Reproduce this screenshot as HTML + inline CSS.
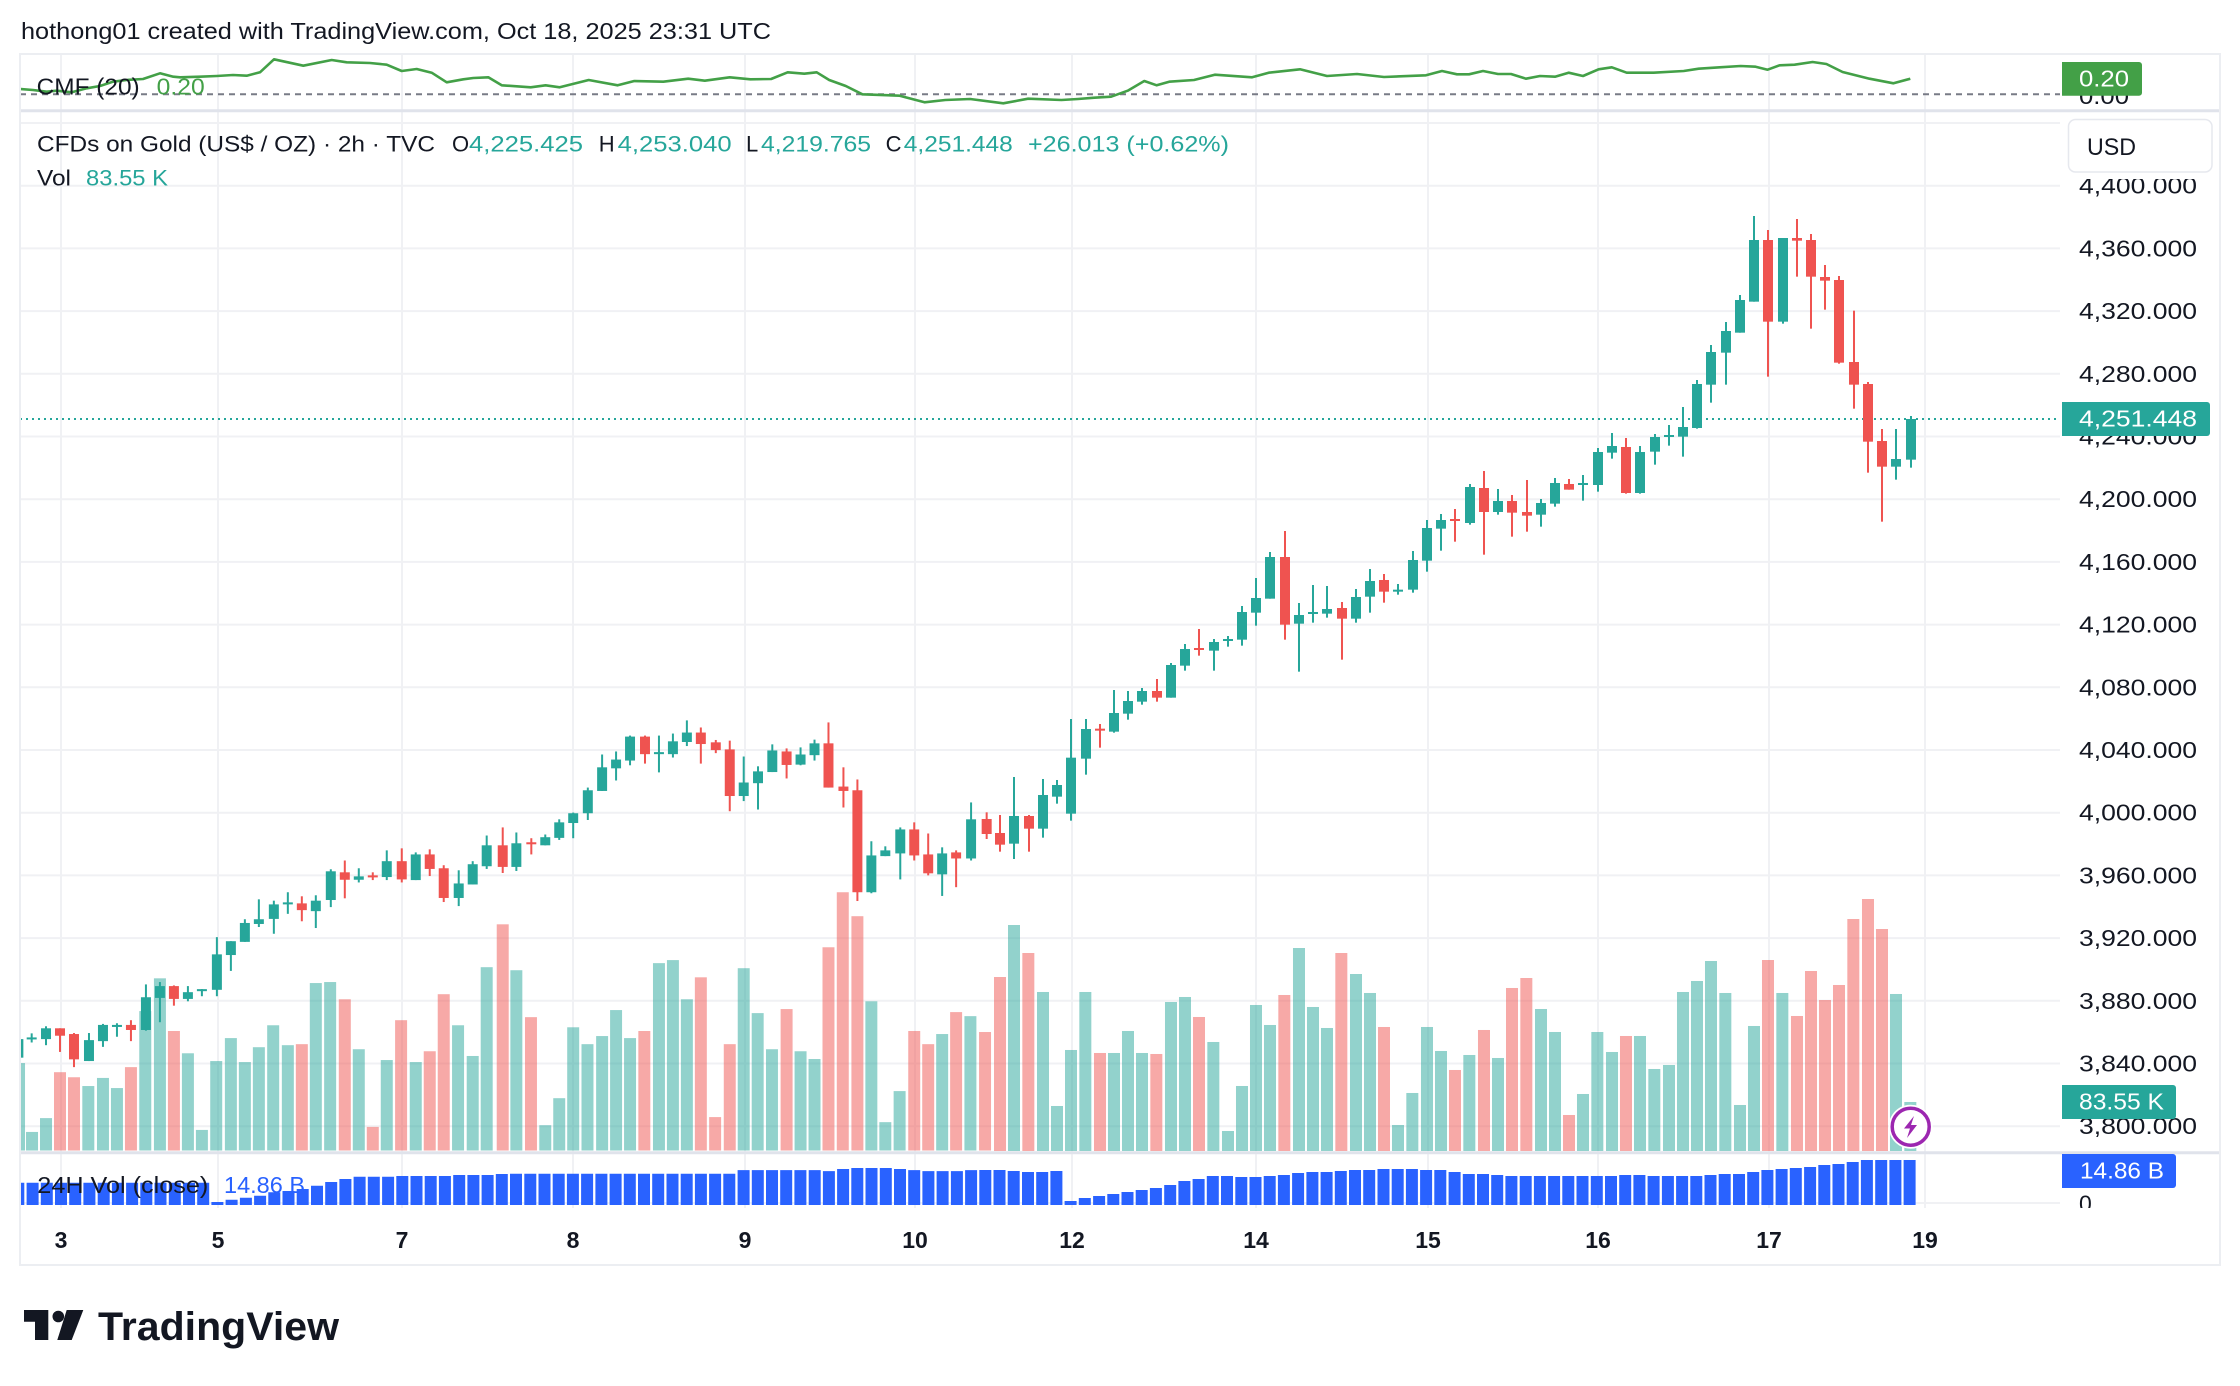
<!DOCTYPE html>
<html><head><meta charset="utf-8"><style>html,body{margin:0;padding:0;background:#fff;}svg{display:block;}</style></head>
<body>
<svg width="2240" height="1386" viewBox="0 0 2240 1386" xmlns="http://www.w3.org/2000/svg" font-family="'Liberation Sans', Arial, sans-serif">
<defs>
<clipPath id="cm"><rect x="21" y="111" width="2039" height="1040.5"/></clipPath>
<clipPath id="cv"><rect x="21" y="1154" width="2039" height="54"/></clipPath>
<clipPath id="cc"><rect x="21" y="55" width="2039" height="55"/></clipPath>
<clipPath id="cz"><rect x="2060" y="1188" width="100" height="20"/></clipPath>
</defs>
<rect width="2240" height="1386" fill="#fff"/>
<text x="21" y="39" font-size="23" fill="#131722" textLength="750" lengthAdjust="spacingAndGlyphs">hothong01 created with TradingView.com, Oct 18, 2025 23:31 UTC</text>

<!-- grid -->
<g stroke="#f0f1f4" stroke-width="2">
<line x1="61" y1="55" x2="61" y2="1208"/><line x1="218" y1="55" x2="218" y2="1208"/><line x1="402" y1="55" x2="402" y2="1208"/><line x1="573" y1="55" x2="573" y2="1208"/><line x1="745" y1="55" x2="745" y2="1208"/><line x1="915" y1="55" x2="915" y2="1208"/><line x1="1072" y1="55" x2="1072" y2="1208"/><line x1="1256" y1="55" x2="1256" y2="1208"/><line x1="1428" y1="55" x2="1428" y2="1208"/><line x1="1598" y1="55" x2="1598" y2="1208"/><line x1="1769" y1="55" x2="1769" y2="1208"/><line x1="1925" y1="55" x2="1925" y2="1208"/>
<line x1="20" y1="123" x2="2060" y2="123"/><line x1="20" y1="185.7" x2="2060" y2="185.7"/><line x1="20" y1="248.4" x2="2060" y2="248.4"/><line x1="20" y1="311.1" x2="2060" y2="311.1"/><line x1="20" y1="373.8" x2="2060" y2="373.8"/><line x1="20" y1="436.5" x2="2060" y2="436.5"/><line x1="20" y1="499.2" x2="2060" y2="499.2"/><line x1="20" y1="561.9" x2="2060" y2="561.9"/><line x1="20" y1="624.6" x2="2060" y2="624.6"/><line x1="20" y1="687.3" x2="2060" y2="687.3"/><line x1="20" y1="750" x2="2060" y2="750"/><line x1="20" y1="812.7" x2="2060" y2="812.7"/><line x1="20" y1="875.4" x2="2060" y2="875.4"/><line x1="20" y1="938.1" x2="2060" y2="938.1"/><line x1="20" y1="1000.8" x2="2060" y2="1000.8"/><line x1="20" y1="1063.5" x2="2060" y2="1063.5"/><line x1="20" y1="1126.2" x2="2060" y2="1126.2"/>
<line x1="20" y1="1203" x2="2060" y2="1203"/>
</g>

<!-- CMF pane -->
<g clip-path="url(#cc)">
<line x1="20" y1="94.3" x2="2062" y2="94.3" stroke="#787b86" stroke-width="2" stroke-dasharray="6 5"/>
<polyline fill="none" stroke="#43a047" stroke-width="2.6" stroke-linejoin="round" points="20.7,89 33,90 46.7,91.7 56.7,90.7 71.7,92.3 86.7,88.3 100,86 113,81.7 126.7,80 143,79 160,73.3 173.3,76.7 180,77.3 200,76.7 216.7,76 233,75 246.7,75.7 260,72.3 274,59.3 303.3,65.7 331.7,60 346.7,62.3 370,63 386.7,64.7 401.7,71 416.7,69 431.7,72.7 446.7,82.3 463.3,79.3 473.3,78 488.3,77.3 501.7,85.3 530.7,87.3 545.6,85.3 559.7,87.3 588.7,80 617.7,85.3 634.3,81 663.3,81.7 688.2,78.7 704.8,80.7 729.7,77.3 750.4,79.3 771.1,79 787.7,72.3 804.3,73.7 816.7,72.3 829.2,80 845.8,86 862.4,94.3 899.7,95.7 924.5,102.3 945.3,100 970.1,99 1003.3,103.3 1028.2,98.7 1061.4,100 1078,99 1094.5,97.7 1111.1,96.7 1127.7,90.7 1144.3,81 1156.7,85.3 1169.2,81.7 1194,80 1214.8,74.7 1252.1,77.3 1268.7,72.7 1300,69.3 1327,76 1357,74 1384,77 1426,75.3 1442,71 1457,74.3 1469,74.3 1483,71 1498,74 1511,74 1526,78.7 1540,76 1555,76.7 1568.6,72.7 1583,76 1598.6,69.3 1611.8,67.3 1626.7,72.7 1653.7,72.7 1683.7,71 1698.7,68.7 1719.7,67.3 1740.6,66 1755.6,66.7 1767.6,69.7 1779.6,65.3 1794.6,64.7 1812.6,62 1826.4,64 1842.6,72 1869.5,78.7 1893.5,83.3 1910.3,78.7"/>
</g>
<text x="36.7" y="94.3" font-size="23" fill="#131722" textLength="103" lengthAdjust="spacingAndGlyphs">CMF (20)</text>
<text x="156.7" y="94.3" font-size="23" fill="#43a047" textLength="48" lengthAdjust="spacingAndGlyphs">0.20</text>

<!-- main pane -->
<g clip-path="url(#cm)">
<!-- volume A -->
<g transform="matrix(0.3331 0 0 0.33762 14.03 680.55)">
<g fill="rgba(38,166,154,0.5)">
<rect x="-3" y="1133" width="36" height="259"/><rect x="36" y="1337" width="36" height="55"/><rect x="78" y="1296" width="36" height="96"/><rect x="205" y="1201" width="36" height="191"/><rect x="249" y="1177" width="36" height="215"/><rect x="291" y="1207" width="36" height="185"/><rect x="376" y="979" width="36" height="413"/><rect x="420" y="882" width="36" height="510"/><rect x="504" y="1104" width="36" height="288"/><rect x="546" y="1331" width="36" height="61"/><rect x="589" y="1127" width="36" height="265"/><rect x="633" y="1059" width="36" height="333"/><rect x="675" y="1130" width="36" height="262"/><rect x="717" y="1086" width="36" height="306"/><rect x="760" y="1021" width="36" height="371"/><rect x="804" y="1080" width="36" height="312"/><rect x="888" y="896" width="36" height="496"/><rect x="931" y="893" width="36" height="499"/><rect x="1017" y="1092" width="36" height="300"/><rect x="1101" y="1124" width="36" height="268"/><rect x="1188" y="1130" width="36" height="262"/><rect x="1315" y="1021" width="36" height="371"/><rect x="1359" y="1112" width="36" height="280"/><rect x="1401" y="849" width="36" height="543"/>
</g>
<g fill="rgba(239,83,80,0.5)">
<rect x="120" y="1160" width="36" height="232"/><rect x="162" y="1175" width="36" height="217"/><rect x="333" y="1145" width="36" height="247"/><rect x="462" y="1038" width="36" height="354"/><rect x="846" y="1077" width="36" height="315"/><rect x="975" y="944" width="36" height="448"/><rect x="1059" y="1322" width="36" height="70"/><rect x="1144" y="1006" width="36" height="386"/><rect x="1230" y="1098" width="36" height="294"/><rect x="1272" y="929" width="36" height="463"/>
</g>
</g>
<!-- volume B -->
<g transform="matrix(0.3324 0 0 0.33762 500.4 680.55)">
<g fill="rgba(38,166,154,0.5)">
<rect x="30" y="858" width="36" height="534"/><rect x="117" y="1317" width="36" height="75"/><rect x="159" y="1237" width="36" height="155"/><rect x="201" y="1027" width="36" height="365"/><rect x="244" y="1077" width="36" height="315"/><rect x="288" y="1053" width="36" height="339"/><rect x="330" y="976" width="36" height="416"/><rect x="372" y="1059" width="36" height="333"/><rect x="459" y="837" width="36" height="555"/><rect x="501" y="828" width="36" height="564"/><rect x="543" y="944" width="36" height="448"/><rect x="714" y="852" width="36" height="540"/><rect x="756" y="985" width="36" height="407"/><rect x="799" y="1092" width="36" height="300"/><rect x="885" y="1098" width="36" height="294"/><rect x="927" y="1121" width="36" height="271"/><rect x="1098" y="950" width="36" height="442"/><rect x="1140" y="1308" width="36" height="84"/><rect x="1183" y="1216" width="36" height="176"/><rect x="1311" y="1047" width="36" height="345"/><rect x="1396" y="994" width="36" height="398"/>
</g>
<g fill="rgba(239,83,80,0.5)">
<rect x="-11" y="722" width="36" height="670"/><rect x="74" y="997" width="36" height="395"/><rect x="415" y="1038" width="36" height="354"/><rect x="585" y="879" width="36" height="513"/><rect x="628" y="1293" width="36" height="99"/><rect x="672" y="1077" width="36" height="315"/><rect x="843" y="973" width="36" height="419"/><rect x="969" y="790" width="36" height="602"/><rect x="1012" y="627" width="36" height="765"/><rect x="1056" y="698" width="36" height="694"/><rect x="1227" y="1038" width="36" height="354"/><rect x="1269" y="1077" width="36" height="315"/><rect x="1353" y="982" width="36" height="410"/><rect x="1440" y="1041" width="36" height="351"/>
</g>
</g>
<!-- volume E -->
<g transform="matrix(0.33333 0 0 0.33333 985 880)">
<g fill="rgba(38,166,154,0.5)">
<rect x="69" y="135" width="36" height="678"/><rect x="156" y="336" width="36" height="477"/><rect x="198" y="678" width="36" height="135"/><rect x="240" y="510" width="36" height="303"/><rect x="283" y="336" width="36" height="477"/><rect x="369" y="519" width="36" height="294"/><rect x="411" y="453" width="36" height="360"/><rect x="453" y="519" width="36" height="294"/><rect x="540" y="366" width="36" height="447"/><rect x="582" y="351" width="36" height="462"/><rect x="667" y="486" width="36" height="327"/><rect x="711" y="753" width="36" height="60"/><rect x="753" y="618" width="36" height="195"/><rect x="795" y="375" width="36" height="438"/><rect x="837" y="435" width="36" height="378"/><rect x="924" y="204" width="36" height="609"/><rect x="966" y="381" width="36" height="432"/><rect x="1008" y="444" width="36" height="369"/><rect x="1095" y="282" width="36" height="531"/><rect x="1137" y="339" width="36" height="474"/><rect x="1221" y="735" width="36" height="78"/><rect x="1264" y="639" width="36" height="174"/><rect x="1308" y="441" width="36" height="372"/><rect x="1350" y="513" width="36" height="300"/><rect x="1435" y="525" width="36" height="288"/>
</g>
<g fill="rgba(239,83,80,0.5)">
<rect x="27" y="291" width="36" height="522"/><rect x="112" y="219" width="36" height="594"/><rect x="327" y="519" width="36" height="294"/><rect x="496" y="522" width="36" height="291"/><rect x="624" y="411" width="36" height="402"/><rect x="880" y="345" width="36" height="468"/><rect x="1051" y="219" width="36" height="594"/><rect x="1179" y="441" width="36" height="372"/><rect x="1392" y="570" width="36" height="243"/><rect x="1479" y="450" width="36" height="363"/>
</g>
</g>
<!-- volume F -->
<g transform="matrix(0.33333 0 0 0.33333 1460 880)">
<g fill="rgba(38,166,154,0.5)">
<rect x="96" y="534" width="36" height="279"/><rect x="225" y="387" width="36" height="426"/><rect x="267" y="456" width="36" height="357"/><rect x="351" y="642" width="36" height="171"/><rect x="394" y="456" width="36" height="357"/><rect x="438" y="516" width="36" height="297"/><rect x="522" y="468" width="36" height="345"/><rect x="565" y="567" width="36" height="246"/><rect x="609" y="555" width="36" height="258"/><rect x="651" y="336" width="36" height="477"/><rect x="693" y="303" width="36" height="510"/><rect x="735" y="243" width="36" height="570"/><rect x="778" y="339" width="36" height="474"/><rect x="822" y="675" width="36" height="138"/><rect x="864" y="438" width="36" height="375"/><rect x="949" y="339" width="36" height="474"/><rect x="1290" y="342" width="36" height="471"/><rect x="1333" y="666" width="36" height="147"/>
</g>
<g fill="rgba(239,83,80,0.5)">
<rect x="138" y="324" width="36" height="489"/><rect x="181" y="294" width="36" height="519"/><rect x="309" y="705" width="36" height="108"/><rect x="480" y="468" width="36" height="345"/><rect x="906" y="240" width="36" height="573"/><rect x="993" y="408" width="36" height="405"/><rect x="1035" y="273" width="36" height="540"/><rect x="1077" y="360" width="36" height="453"/><rect x="1119" y="315" width="36" height="498"/><rect x="1162" y="117" width="36" height="696"/><rect x="1206" y="57" width="36" height="756"/><rect x="1248" y="147" width="36" height="666"/>
</g>
</g>

<!-- current price dotted line -->
<line x1="20" y1="419" x2="2060" y2="419" stroke="#26a69a" stroke-width="2" stroke-dasharray="2 4"/>

<!-- candles A -->
<g transform="matrix(0.3331 0 0 0.33762 14.03 680.55)">
<g fill="#26a69a">
<rect x="-2" y="1062" width="30" height="55"/>
<rect x="50" y="1045" width="6" height="27"/><rect x="38" y="1057" width="30" height="6"/>
<rect x="93" y="1024" width="6" height="56"/><rect x="81" y="1030" width="30" height="32"/>
<rect x="222" y="1044" width="6" height="83"/><rect x="210" y="1065" width="30" height="62"/>
<rect x="264" y="1017" width="6" height="68"/><rect x="252" y="1020" width="30" height="48"/>
<rect x="306" y="1015" width="6" height="40"/><rect x="294" y="1020" width="30" height="6"/>
<rect x="393" y="900" width="6" height="137"/><rect x="381" y="938" width="30" height="97"/>
<rect x="435" y="893" width="6" height="119"/><rect x="423" y="905" width="30" height="35"/>
<rect x="519" y="905" width="6" height="45"/><rect x="507" y="923" width="30" height="20"/>
<rect x="561" y="914" width="6" height="21"/><rect x="549" y="914" width="30" height="6"/>
<rect x="606" y="760" width="6" height="175"/><rect x="594" y="811" width="30" height="105"/>
<rect x="648" y="772" width="6" height="88"/><rect x="636" y="772" width="30" height="41"/>
<rect x="690" y="707" width="6" height="67"/><rect x="678" y="718" width="30" height="56"/>
<rect x="732" y="648" width="6" height="82"/><rect x="720" y="707" width="30" height="14"/>
<rect x="777" y="652" width="6" height="98"/><rect x="765" y="663" width="30" height="43"/>
<rect x="819" y="627" width="6" height="64"/><rect x="807" y="657" width="30" height="6"/>
<rect x="903" y="636" width="6" height="97"/><rect x="891" y="652" width="30" height="31"/>
<rect x="948" y="559" width="6" height="112"/><rect x="936" y="565" width="30" height="85"/>
<rect x="1032" y="556" width="6" height="42"/><rect x="1020" y="580" width="30" height="10"/>
<rect x="1116" y="503" width="6" height="88"/><rect x="1104" y="535" width="30" height="47"/>
<rect x="1203" y="509" width="6" height="82"/><rect x="1191" y="515" width="30" height="76"/>
<rect x="1332" y="562" width="6" height="106"/><rect x="1320" y="601" width="30" height="43"/>
<rect x="1374" y="535" width="6" height="69"/><rect x="1362" y="544" width="30" height="60"/>
<rect x="1416" y="459" width="6" height="99"/><rect x="1404" y="488" width="30" height="62"/>
</g>
<g fill="#ef5350">
<rect x="135" y="1030" width="6" height="70"/><rect x="123" y="1030" width="30" height="22"/>
<rect x="177" y="1044" width="6" height="101"/><rect x="165" y="1047" width="30" height="75"/>
<rect x="348" y="1006" width="6" height="62"/><rect x="336" y="1020" width="30" height="15"/>
<rect x="477" y="903" width="6" height="60"/><rect x="465" y="905" width="30" height="38"/>
<rect x="861" y="639" width="6" height="74"/><rect x="849" y="660" width="30" height="20"/>
<rect x="990" y="533" width="6" height="112"/><rect x="978" y="568" width="30" height="22"/>
<rect x="1074" y="568" width="6" height="23"/><rect x="1062" y="577" width="30" height="6"/>
<rect x="1161" y="497" width="6" height="101"/><rect x="1149" y="535" width="30" height="54"/>
<rect x="1245" y="500" width="6" height="79"/><rect x="1233" y="515" width="30" height="43"/>
<rect x="1287" y="547" width="6" height="109"/><rect x="1275" y="556" width="30" height="88"/>
</g>
</g>
<!-- candles B -->
<g transform="matrix(0.3324 0 0 0.33762 500.4 680.55)">
<g fill="#26a69a">
<rect x="45" y="450" width="6" height="114"/><rect x="33" y="482" width="30" height="70"/>
<rect x="132" y="456" width="6" height="32"/><rect x="120" y="464" width="30" height="24"/>
<rect x="174" y="411" width="6" height="61"/><rect x="162" y="420" width="30" height="46"/>
<rect x="216" y="391" width="6" height="76"/><rect x="204" y="393" width="30" height="29"/>
<rect x="260" y="317" width="6" height="96"/><rect x="248" y="325" width="30" height="68"/>
<rect x="303" y="219" width="6" height="108"/><rect x="291" y="257" width="30" height="70"/>
<rect x="345" y="210" width="6" height="86"/><rect x="333" y="234" width="30" height="26"/>
<rect x="387" y="163" width="6" height="88"/><rect x="375" y="166" width="30" height="71"/>
<rect x="474" y="163" width="6" height="109"/><rect x="462" y="212" width="30" height="6"/>
<rect x="516" y="157" width="6" height="71"/><rect x="504" y="180" width="30" height="38"/>
<rect x="558" y="118" width="6" height="76"/><rect x="546" y="154" width="30" height="28"/>
<rect x="729" y="225" width="6" height="132"/><rect x="717" y="302" width="30" height="40"/>
<rect x="772" y="254" width="6" height="128"/><rect x="760" y="269" width="30" height="35"/>
<rect x="815" y="189" width="6" height="82"/><rect x="803" y="207" width="30" height="64"/>
<rect x="900" y="198" width="6" height="53"/><rect x="888" y="219" width="30" height="30"/>
<rect x="942" y="175" width="6" height="62"/><rect x="930" y="186" width="30" height="35"/>
<rect x="1113" y="476" width="6" height="154"/><rect x="1101" y="518" width="30" height="109"/>
<rect x="1155" y="491" width="6" height="29"/><rect x="1143" y="503" width="30" height="17"/>
<rect x="1200" y="435" width="6" height="154"/><rect x="1188" y="441" width="30" height="71"/>
<rect x="1326" y="494" width="6" height="144"/><rect x="1314" y="512" width="30" height="62"/>
<rect x="1413" y="361" width="6" height="172"/><rect x="1401" y="411" width="30" height="116"/>
</g>
<g fill="#ef5350">
<rect x="4" y="435" width="6" height="135"/><rect x="-8" y="488" width="30" height="64"/>
<rect x="90" y="467" width="6" height="48"/><rect x="78" y="479" width="30" height="6"/>
<rect x="432" y="163" width="6" height="83"/><rect x="420" y="166" width="30" height="52"/>
<rect x="600" y="139" width="6" height="107"/><rect x="588" y="154" width="30" height="34"/>
<rect x="645" y="176" width="6" height="39"/><rect x="633" y="183" width="30" height="23"/>
<rect x="687" y="178" width="6" height="209"/><rect x="675" y="204" width="30" height="138"/>
<rect x="858" y="201" width="6" height="89"/><rect x="846" y="210" width="30" height="40"/>
<rect x="984" y="124" width="6" height="193"/><rect x="972" y="186" width="30" height="131"/>
<rect x="1029" y="257" width="6" height="119"/><rect x="1017" y="314" width="30" height="13"/>
<rect x="1071" y="293" width="6" height="360"/><rect x="1059" y="325" width="30" height="302"/>
<rect x="1242" y="420" width="6" height="113"/><rect x="1230" y="441" width="30" height="77"/>
<rect x="1284" y="453" width="6" height="124"/><rect x="1272" y="515" width="30" height="56"/>
<rect x="1368" y="503" width="6" height="109"/><rect x="1356" y="509" width="30" height="18"/>
</g>
</g>
<!-- candles C -->
<g transform="matrix(0.33333 0 0 0.33333 985 480)">
<g fill="#26a69a">
<rect x="84" y="891" width="6" height="246"/><rect x="72" y="1008" width="30" height="83"/>
<rect x="171" y="897" width="6" height="176"/><rect x="159" y="945" width="30" height="101"/>
<rect x="213" y="900" width="6" height="71"/><rect x="201" y="915" width="30" height="35"/>
<rect x="255" y="717" width="6" height="305"/><rect x="243" y="833" width="30" height="168"/>
<rect x="300" y="717" width="6" height="167"/><rect x="288" y="747" width="30" height="89"/>
<rect x="384" y="630" width="6" height="128"/><rect x="372" y="699" width="30" height="56"/>
<rect x="426" y="633" width="6" height="86"/><rect x="414" y="663" width="30" height="38"/>
<rect x="468" y="624" width="6" height="50"/><rect x="456" y="633" width="30" height="32"/>
<rect x="555" y="549" width="6" height="104"/><rect x="543" y="555" width="30" height="98"/>
<rect x="597" y="492" width="6" height="80"/><rect x="585" y="507" width="30" height="50"/>
<rect x="684" y="477" width="6" height="95"/><rect x="672" y="486" width="30" height="26"/>
<rect x="726" y="468" width="6" height="32"/><rect x="714" y="477" width="30" height="6"/>
<rect x="768" y="378" width="6" height="119"/><rect x="756" y="396" width="30" height="83"/>
<rect x="810" y="294" width="6" height="143"/><rect x="798" y="354" width="30" height="44"/>
<rect x="852" y="216" width="6" height="140"/><rect x="840" y="231" width="30" height="125"/>
<rect x="939" y="369" width="6" height="206"/><rect x="927" y="405" width="30" height="26"/>
<rect x="981" y="315" width="6" height="113"/><rect x="969" y="396" width="30" height="6"/>
<rect x="1023" y="318" width="6" height="95"/><rect x="1011" y="387" width="30" height="14"/>
<rect x="1110" y="327" width="6" height="101"/><rect x="1098" y="351" width="30" height="65"/>
<rect x="1152" y="267" width="6" height="131"/><rect x="1140" y="303" width="30" height="47"/>
<rect x="1236" y="312" width="6" height="32"/><rect x="1224" y="329" width="30" height="6"/>
<rect x="1281" y="213" width="6" height="125"/><rect x="1269" y="240" width="30" height="89"/>
<rect x="1323" y="120" width="6" height="155"/><rect x="1311" y="144" width="30" height="98"/>
<rect x="1365" y="102" width="6" height="110"/><rect x="1353" y="120" width="30" height="26"/>
</g>
<g fill="#ef5350">
<rect x="2" y="997" width="6" height="80"/><rect x="-10" y="1017" width="30" height="45"/>
<rect x="42" y="1005" width="6" height="110"/><rect x="30" y="1059" width="30" height="35"/>
<rect x="129" y="1005" width="6" height="110"/><rect x="117" y="1008" width="30" height="38"/>
<rect x="342" y="732" width="6" height="71"/><rect x="330" y="746" width="30" height="6"/>
<rect x="513" y="597" width="6" height="68"/><rect x="501" y="633" width="30" height="20"/>
<rect x="639" y="447" width="6" height="80"/><rect x="627" y="504" width="30" height="6"/>
<rect x="897" y="153" width="6" height="326"/><rect x="885" y="231" width="30" height="203"/>
<rect x="1068" y="366" width="6" height="173"/><rect x="1056" y="384" width="30" height="32"/>
<rect x="1194" y="282" width="6" height="86"/><rect x="1182" y="300" width="30" height="35"/>
<rect x="1407" y="87" width="6" height="98"/><rect x="1395" y="117" width="30" height="6"/>
</g>
</g>
<!-- candles D -->
<g transform="matrix(0.33333 0 0 0.33333 1460 200)">
<g fill="#26a69a">
<rect x="27" y="852" width="6" height="122"/><rect x="15" y="861" width="30" height="108"/>
<rect x="111" y="867" width="6" height="77"/><rect x="99" y="903" width="30" height="33"/>
<rect x="240" y="897" width="6" height="83"/><rect x="228" y="909" width="30" height="35"/>
<rect x="282" y="834" width="6" height="86"/><rect x="270" y="849" width="30" height="62"/>
<rect x="366" y="825" width="6" height="77"/><rect x="354" y="849" width="30" height="6"/>
<rect x="411" y="744" width="6" height="131"/><rect x="399" y="756" width="30" height="99"/>
<rect x="453" y="699" width="6" height="77"/><rect x="441" y="738" width="30" height="20"/>
<rect x="537" y="738" width="6" height="143"/><rect x="525" y="756" width="30" height="123"/>
<rect x="582" y="702" width="6" height="92"/><rect x="570" y="711" width="30" height="44"/>
<rect x="624" y="675" width="6" height="62"/><rect x="612" y="705" width="30" height="6"/>
<rect x="666" y="621" width="6" height="149"/><rect x="654" y="681" width="30" height="29"/>
<rect x="708" y="540" width="6" height="146"/><rect x="696" y="552" width="30" height="132"/>
<rect x="750" y="435" width="6" height="173"/><rect x="738" y="456" width="30" height="98"/>
<rect x="795" y="366" width="6" height="188"/><rect x="783" y="393" width="30" height="65"/>
<rect x="837" y="285" width="6" height="113"/><rect x="825" y="300" width="30" height="98"/>
<rect x="879" y="48" width="6" height="257"/><rect x="867" y="120" width="30" height="185"/>
<rect x="966" y="114" width="6" height="257"/><rect x="954" y="114" width="30" height="251"/>
<rect x="1305" y="687" width="6" height="152"/><rect x="1293" y="777" width="30" height="23"/>
<rect x="1350" y="648" width="6" height="155"/><rect x="1338" y="657" width="30" height="122"/>
</g>
<g fill="#ef5350">
<rect x="69" y="813" width="6" height="251"/><rect x="57" y="864" width="30" height="72"/>
<rect x="153" y="885" width="6" height="125"/><rect x="141" y="903" width="30" height="35"/>
<rect x="198" y="840" width="6" height="155"/><rect x="186" y="936" width="30" height="11"/>
<rect x="324" y="837" width="6" height="32"/><rect x="312" y="852" width="30" height="17"/>
<rect x="495" y="714" width="6" height="167"/><rect x="483" y="741" width="30" height="138"/>
<rect x="921" y="90" width="6" height="440"/><rect x="909" y="120" width="30" height="245"/>
<rect x="1008" y="57" width="6" height="173"/><rect x="996" y="114" width="30" height="8"/>
<rect x="1050" y="102" width="6" height="284"/><rect x="1038" y="120" width="30" height="110"/>
<rect x="1092" y="195" width="6" height="134"/><rect x="1080" y="231" width="30" height="11"/>
<rect x="1134" y="228" width="6" height="263"/><rect x="1122" y="240" width="30" height="248"/>
<rect x="1179" y="332" width="6" height="294"/><rect x="1167" y="486" width="30" height="68"/>
<rect x="1221" y="546" width="6" height="272"/><rect x="1209" y="552" width="30" height="173"/>
<rect x="1263" y="687" width="6" height="278"/><rect x="1251" y="723" width="30" height="77"/>
</g>
</g>

<!-- lightning icon -->
<circle cx="1910.7" cy="1126.7" r="22" fill="#fff"/>
<circle cx="1910.7" cy="1126.7" r="18.5" fill="#fff" stroke="#9c27b0" stroke-width="3.5"/>
<polygon points="1914,1116 1904,1128.5 1910,1128.5 1907,1138 1917,1125 1911,1125" fill="#9c27b0"/>
</g>

<!-- legend -->
<g font-size="22">
<text x="37" y="151.5" fill="#131722" textLength="398" lengthAdjust="spacingAndGlyphs">CFDs on Gold (US$ / OZ) · 2h · TVC</text>
<text x="452" y="151.5" fill="#131722">O</text>
<text x="469" y="151.5" fill="#26a69a" textLength="114" lengthAdjust="spacingAndGlyphs">4,225.425</text>
<text x="598.7" y="151.5" fill="#131722">H</text>
<text x="617.7" y="151.5" fill="#26a69a" textLength="114" lengthAdjust="spacingAndGlyphs">4,253.040</text>
<text x="746" y="151.5" fill="#131722">L</text>
<text x="761" y="151.5" fill="#26a69a" textLength="110" lengthAdjust="spacingAndGlyphs">4,219.765</text>
<text x="885.6" y="151.5" fill="#131722">C</text>
<text x="903.8" y="151.5" fill="#26a69a" textLength="109" lengthAdjust="spacingAndGlyphs">4,251.448</text>
<text x="1028" y="151.5" fill="#26a69a" textLength="201" lengthAdjust="spacingAndGlyphs">+26.013 (+0.62%)</text>
<text x="37" y="185.7" fill="#131722" textLength="34" lengthAdjust="spacingAndGlyphs">Vol</text>
<text x="86" y="185.7" fill="#26a69a" textLength="82" lengthAdjust="spacingAndGlyphs">83.55 K</text>
</g>

<!-- 24H vol pane -->
<g clip-path="url(#cv)">
<path fill="#2962ff" d="M12.3 1182.7h12V1205h-12zM26.6 1182.7h12V1205h-12zM40.8 1182.7h12V1205h-12zM55 1182.7h12V1205h-12zM69.2 1182.7h12V1205h-12zM83.4 1182.7h12V1205h-12zM97.7 1182.7h12V1205h-12zM111.9 1182.7h12V1205h-12zM126.1 1182.7h12V1205h-12zM140.3 1182.7h12V1205h-12zM154.5 1182.7h12V1205h-12zM168.8 1182.7h12V1205h-12zM183 1182.7h12V1205h-12zM197.2 1182.7h12V1205h-12zM211.4 1202h12V1205h-12zM225.6 1199.7h12V1205h-12zM239.9 1197.7h12V1205h-12zM254.1 1195.7h12V1205h-12zM268.3 1192.3h12V1205h-12zM282.5 1191h12V1205h-12zM296.7 1189h12V1205h-12zM311 1185.7h12V1205h-12zM325.2 1182h12V1205h-12zM339.4 1179h12V1205h-12zM353.6 1176.7h12V1205h-12zM367.8 1176.7h12V1205h-12zM382.1 1176.7h12V1205h-12zM396.3 1176h12V1205h-12zM410.5 1176h12V1205h-12zM424.7 1176h12V1205h-12zM438.9 1176h12V1205h-12zM453.2 1175h12V1205h-12zM467.4 1175h12V1205h-12zM481.6 1175h12V1205h-12zM495.8 1174h12V1205h-12zM510 1173.8h12V1205h-12zM524.3 1173.8h12V1205h-12zM538.5 1173.8h12V1205h-12zM552.7 1173.8h12V1205h-12zM566.9 1173.8h12V1205h-12zM581.1 1173.8h12V1205h-12zM595.4 1173.8h12V1205h-12zM609.6 1173.8h12V1205h-12zM623.8 1173.8h12V1205h-12zM638 1173.8h12V1205h-12zM652.2 1173.8h12V1205h-12zM666.5 1173.8h12V1205h-12zM680.7 1173.8h12V1205h-12zM694.9 1173.8h12V1205h-12zM709.1 1173.8h12V1205h-12zM723.3 1173.8h12V1205h-12zM737.6 1170.1h12V1205h-12zM751.8 1170.1h12V1205h-12zM766 1170.1h12V1205h-12zM780.2 1170.1h12V1205h-12zM794.4 1170.1h12V1205h-12zM808.7 1170.1h12V1205h-12zM822.9 1171.1h12V1205h-12zM837.1 1169h12V1205h-12zM851.3 1168h12V1205h-12zM865.5 1168h12V1205h-12zM879.8 1168h12V1205h-12zM894 1169h12V1205h-12zM908.2 1170.1h12V1205h-12zM922.4 1171.1h12V1205h-12zM936.6 1171.1h12V1205h-12zM950.9 1171.1h12V1205h-12zM965.1 1170.1h12V1205h-12zM979.3 1170h12V1205h-12zM993.5 1170h12V1205h-12zM1007.7 1171h12V1205h-12zM1022 1172h12V1205h-12zM1036.2 1172h12V1205h-12zM1050.4 1171h12V1205h-12zM1064.6 1201h12V1205h-12zM1078.8 1198h12V1205h-12zM1093.1 1196h12V1205h-12zM1107.3 1194h12V1205h-12zM1121.5 1192h12V1205h-12zM1135.7 1190h12V1205h-12zM1149.9 1188h12V1205h-12zM1164.2 1185h12V1205h-12zM1178.4 1181h12V1205h-12zM1192.6 1179h12V1205h-12zM1206.8 1176h12V1205h-12zM1221 1176h12V1205h-12zM1235.3 1177h12V1205h-12zM1249.5 1177h12V1205h-12zM1263.7 1176h12V1205h-12zM1277.9 1175h12V1205h-12zM1292.1 1173h12V1205h-12zM1306.4 1172h12V1205h-12zM1320.6 1172h12V1205h-12zM1334.8 1171h12V1205h-12zM1349 1170h12V1205h-12zM1363.2 1170h12V1205h-12zM1377.5 1169h12V1205h-12zM1391.7 1169h12V1205h-12zM1405.9 1169h12V1205h-12zM1420.1 1170h12V1205h-12zM1434.3 1170h12V1205h-12zM1448.6 1172h12V1205h-12zM1462.8 1174h12V1205h-12zM1477 1174h12V1205h-12zM1491.2 1175h12V1205h-12zM1505.4 1176h12V1205h-12zM1519.7 1176h12V1205h-12zM1533.9 1176h12V1205h-12zM1548.1 1176h12V1205h-12zM1562.3 1176h12V1205h-12zM1576.5 1176h12V1205h-12zM1590.8 1176h12V1205h-12zM1605 1176h12V1205h-12zM1619.2 1175h12V1205h-12zM1633.4 1175h12V1205h-12zM1647.6 1176h12V1205h-12zM1661.9 1176h12V1205h-12zM1676.1 1176h12V1205h-12zM1690.3 1176h12V1205h-12zM1704.5 1175h12V1205h-12zM1718.7 1174h12V1205h-12zM1733 1174h12V1205h-12zM1747.2 1172h12V1205h-12zM1761.4 1170h12V1205h-12zM1775.6 1169h12V1205h-12zM1789.8 1168h12V1205h-12zM1804.1 1167h12V1205h-12zM1818.3 1165h12V1205h-12zM1832.5 1164h12V1205h-12zM1846.7 1162h12V1205h-12zM1860.9 1160h12V1205h-12zM1875.2 1160h12V1205h-12zM1889.4 1160h12V1205h-12zM1903.6 1160h12V1205h-12z"/>
</g>
<text x="37.3" y="1193" font-size="23" fill="#131722" textLength="171" lengthAdjust="spacingAndGlyphs">24H Vol (close)</text>
<text x="224" y="1193" font-size="23" fill="#2962ff" textLength="81" lengthAdjust="spacingAndGlyphs">14.86 B</text>

<!-- separators & frame -->
<line x1="20" y1="110.7" x2="2220" y2="110.7" stroke="#e0e3eb" stroke-width="3"/>
<line x1="20" y1="1152.7" x2="2220" y2="1152.7" stroke="#e0e3eb" stroke-width="3"/>
<rect x="20" y="54" width="2200" height="1211" fill="none" stroke="#eceef2" stroke-width="2"/>

<!-- price axis -->
<g font-size="23" fill="#131722">
<text x="2079" y="193.7" textLength="118" lengthAdjust="spacingAndGlyphs">4,400.000</text>
<text x="2079" y="256.4" textLength="118" lengthAdjust="spacingAndGlyphs">4,360.000</text>
<text x="2079" y="319.1" textLength="118" lengthAdjust="spacingAndGlyphs">4,320.000</text>
<text x="2079" y="381.8" textLength="118" lengthAdjust="spacingAndGlyphs">4,280.000</text>
<text x="2079" y="444.5" textLength="118" lengthAdjust="spacingAndGlyphs">4,240.000</text>
<text x="2079" y="507.2" textLength="118" lengthAdjust="spacingAndGlyphs">4,200.000</text>
<text x="2079" y="569.9" textLength="118" lengthAdjust="spacingAndGlyphs">4,160.000</text>
<text x="2079" y="632.6" textLength="118" lengthAdjust="spacingAndGlyphs">4,120.000</text>
<text x="2079" y="695.3" textLength="118" lengthAdjust="spacingAndGlyphs">4,080.000</text>
<text x="2079" y="758" textLength="118" lengthAdjust="spacingAndGlyphs">4,040.000</text>
<text x="2079" y="820.7" textLength="118" lengthAdjust="spacingAndGlyphs">4,000.000</text>
<text x="2079" y="883.4" textLength="118" lengthAdjust="spacingAndGlyphs">3,960.000</text>
<text x="2079" y="946.1" textLength="118" lengthAdjust="spacingAndGlyphs">3,920.000</text>
<text x="2079" y="1008.8" textLength="118" lengthAdjust="spacingAndGlyphs">3,880.000</text>
<text x="2079" y="1071.5" textLength="118" lengthAdjust="spacingAndGlyphs">3,840.000</text>
<text x="2079" y="1134.2" textLength="118" lengthAdjust="spacingAndGlyphs">3,800.000</text>
<text x="2079" y="104" textLength="50" lengthAdjust="spacingAndGlyphs">0.00</text>
<text x="2079" y="1211.3" clip-path="url(#cz)">0</text>
</g>
<!-- USD button -->
<rect x="2061" y="113" width="158" height="66" fill="#fff"/>
<rect x="2068.5" y="119.5" width="143.5" height="52.5" rx="7" fill="#fff" stroke="#e6e8ee" stroke-width="1.5"/>
<text x="2087" y="155" font-size="24" fill="#131722" textLength="49" lengthAdjust="spacingAndGlyphs">USD</text>

<!-- value labels -->
<path d="M2062 62H2139a3 3 0 0 1 3 3V92.7a3 3 0 0 1-3 3H2062z" fill="#43a047"/>
<text x="2079" y="86.3" font-size="23" fill="#fff" textLength="50" lengthAdjust="spacingAndGlyphs">0.20</text>
<path d="M2062 402H2207a3 3 0 0 1 3 3V433a3 3 0 0 1-3 3H2062z" fill="#26a69a"/>
<text x="2079" y="426.3" font-size="23" fill="#fff" textLength="118" lengthAdjust="spacingAndGlyphs">4,251.448</text>
<path d="M2062 1085H2173a3 3 0 0 1 3 3V1116a3 3 0 0 1-3 3H2062z" fill="#26a69a"/>
<text x="2079" y="1109.7" font-size="23" fill="#fff" textLength="85" lengthAdjust="spacingAndGlyphs">83.55 K</text>
<path d="M2062 1154H2173a3 3 0 0 1 3 3V1185a3 3 0 0 1-3 3H2062z" fill="#2962ff"/>
<text x="2080" y="1178.7" font-size="23" fill="#fff" textLength="84" lengthAdjust="spacingAndGlyphs">14.86 B</text>

<!-- time axis -->
<g font-size="23" font-weight="bold" fill="#131722" text-anchor="middle">
<text x="61" y="1248">3</text><text x="218" y="1248">5</text><text x="402" y="1248">7</text><text x="573" y="1248">8</text><text x="745" y="1248">9</text><text x="915" y="1248">10</text><text x="1072" y="1248">12</text><text x="1256" y="1248">14</text><text x="1428" y="1248">15</text><text x="1598" y="1248">16</text><text x="1769" y="1248">17</text><text x="1925" y="1248">19</text>
</g>

<!-- logo -->
<g fill="#131722">
<path d="M24 1310H48.3V1340H35V1321.7H24Z"/>
<circle cx="58.3" cy="1316.5" r="5.8"/>
<path d="M66.7 1310H83.3L71.7 1340H57.3Z"/>
<text x="98" y="1340" font-size="40" font-weight="bold" textLength="241" lengthAdjust="spacingAndGlyphs">TradingView</text>
</g>
</svg>
</body></html>
